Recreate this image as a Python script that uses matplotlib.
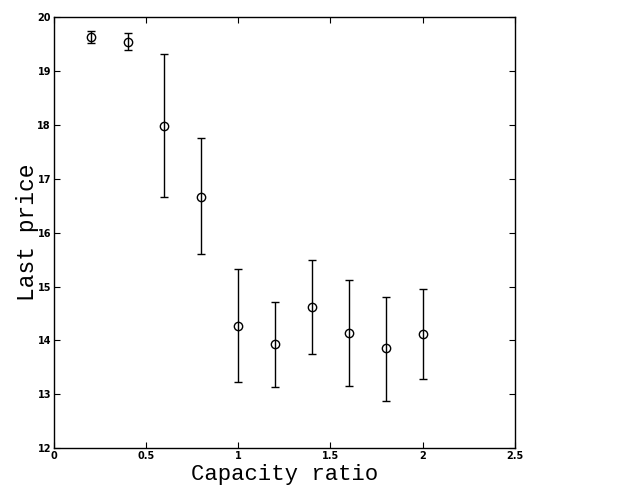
import matplotlib
matplotlib.use("Agg")
import matplotlib.pyplot as plt

# capacity ratio vs last price, mean with error bar bounds
capacity = [0.2, 0.4, 0.6, 0.8, 1.0, 1.2, 1.4, 1.6, 1.8, 2.0]
price = [19.63, 19.54, 17.98, 16.66, 14.27, 13.93, 14.62, 14.14, 13.85, 14.11]
upper = [19.74, 19.70, 19.31, 17.75, 15.33, 14.72, 15.49, 15.13, 14.80, 14.95]
lower = [19.52, 19.39, 16.66, 15.60, 13.22, 13.14, 13.74, 13.15, 12.88, 13.28]

err_lo = [p - l for p, l in zip(price, lower)]
err_hi = [u - p for p, u in zip(price, upper)]

fig = plt.figure(figsize=(6.18, 4.93), dpi=100)
ax = fig.add_axes([0.087, 0.091, 0.746, 0.874])

ax.errorbar(capacity, price, yerr=[err_lo, err_hi], fmt="o", color="black",
            mfc="none", mec="black", markersize=6, mew=1.0,
            elinewidth=1.0, capsize=3, capthick=1.0)

ax.set_xlim(0, 2.5)
ax.set_ylim(12, 20)
ax.set_xticks([0, 0.5, 1, 1.5, 2, 2.5])
ax.set_xticklabels(["0", "0.5", "1", "1.5", "2", "2.5"])
ax.set_yticks(range(12, 21))

ax.tick_params(direction="in", top=True, right=True, length=4, width=0.8,
               labelsize=7, pad=2)
for lab in ax.get_xticklabels() + ax.get_yticklabels():
    lab.set_fontweight("bold")
for s in ax.spines.values():
    s.set_linewidth(1.0)

ax.set_xlabel("Capacity ratio", family="Liberation Mono", fontsize=16, labelpad=2)
ax.set_ylabel("Last price", family="Liberation Mono", fontsize=16.5, labelpad=-1)

fig.savefig("out.png", dpi=100)
